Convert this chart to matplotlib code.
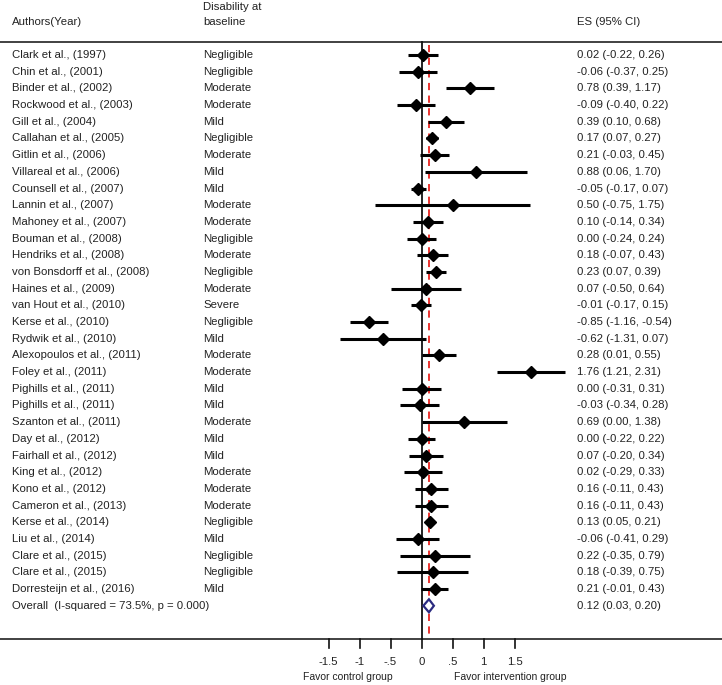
import matplotlib
matplotlib.use("Agg")
import matplotlib.pyplot as plt
import numpy as np

plt.rcParams['font.family'] = ['Liberation Sans', 'DejaVu Sans']

authors = ["Clark et al., (1997)", "Chin et al., (2001)", "Binder et al., (2002)",
           "Rockwood et al., (2003)", "Gill et al., (2004)", "Callahan et al., (2005)",
           "Gitlin et al., (2006)", "Villareal et al., (2006)", "Counsell et al., (2007)",
           "Lannin et al., (2007)", "Mahoney et al., (2007)", "Bouman et al., (2008)",
           "Hendriks et al., (2008)", "von Bonsdorff et al., (2008)", "Haines et al., (2009)",
           "van Hout et al., (2010)", "Kerse et al., (2010)", "Rydwik et al., (2010)",
           "Alexopoulos et al., (2011)", "Foley et al., (2011)", "Pighills et al., (2011)",
           "Pighills et al., (2011)", "Szanton et al., (2011)", "Day et al., (2012)",
           "Fairhall et al., (2012)", "King et al., (2012)", "Kono et al., (2012)",
           "Cameron et al., (2013)", "Kerse et al., (2014)", "Liu et al., (2014)",
           "Clare et al., (2015)", "Clare et al., (2015)", "Dorresteijn et al., (2016)"]
disability = ["Negligible", "Negligible", "Moderate", "Moderate", "Mild", "Negligible",
              "Moderate", "Mild", "Mild", "Moderate", "Moderate", "Negligible",
              "Moderate", "Negligible", "Moderate", "Severe", "Negligible", "Mild",
              "Moderate", "Moderate", "Mild", "Mild", "Moderate", "Mild", "Mild",
              "Moderate", "Moderate", "Moderate", "Negligible", "Mild", "Negligible",
              "Negligible", "Mild"]
es = [0.02, -0.06, 0.78, -0.09, 0.39, 0.17, 0.21, 0.88, -0.05, 0.50, 0.10, 0.00,
      0.18, 0.23, 0.07, -0.01, -0.85, -0.62, 0.28, 1.76, 0.00, -0.03, 0.69, 0.00,
      0.07, 0.02, 0.16, 0.16, 0.13, -0.06, 0.22, 0.18, 0.21]
lo = [-0.22, -0.37, 0.39, -0.40, 0.10, 0.07, -0.03, 0.06, -0.17, -0.75, -0.14, -0.24,
      -0.07, 0.07, -0.50, -0.17, -1.16, -1.31, 0.01, 1.21, -0.31, -0.34, 0.00, -0.22,
      -0.20, -0.29, -0.11, -0.11, 0.05, -0.41, -0.35, -0.39, -0.01]
hi = [0.26, 0.25, 1.17, 0.22, 0.68, 0.27, 0.45, 1.70, 0.07, 1.75, 0.34, 0.24,
      0.43, 0.39, 0.64, 0.15, -0.54, 0.07, 0.55, 2.31, 0.31, 0.28, 1.38, 0.22,
      0.34, 0.33, 0.43, 0.43, 0.21, 0.29, 0.79, 0.75, 0.43]
overall_label = "Overall  (I-squared = 73.5%, p = 0.000)"
overall_es, overall_lo, overall_hi = 0.12, 0.03, 0.20
xticks = [-1.5, -1, -0.5, 0, 0.5, 1, 1.5]
xticklabels = ["-1.5", "-1", "-.5", "0", ".5", "1", "1.5"]

W, H = 722, 685
fig = plt.figure(figsize=(W / 100, H / 100), dpi=100)
ax = fig.add_axes([0, 0, 1, 1])
x0px, scale = 421.5, 62.0
ax.set_xlim(-x0px / scale, (W - x0px) / scale)
ax.set_ylim(H, 0)
ax.axis('off')

def px(p):
    return (p - x0px) / scale

row0, dy = 55.0, 16.69
n = len(authors)
ys = [row0 + i * dy for i in range(n)]
y_over = row0 + n * dy

fs = 8.2
col = '#222222'
es_x = 577
# header
ax.text(px(12), 22, "Authors(Year)", fontsize=fs, va='center', ha='left', color=col)
ax.text(px(203), 7, "Disability at", fontsize=fs, va='center', ha='left', color=col)
ax.text(px(203), 22, "baseline", fontsize=fs, va='center', ha='left', color=col)
ax.text(px(es_x), 22, "ES (95% CI)", fontsize=fs, va='center', ha='left', color=col)

top_y, bot_y = 42, 639
ax.plot([px(0), px(W)], [top_y, top_y], color='#333333', lw=1.3)
ax.plot([px(0), px(W)], [bot_y, bot_y], color='#333333', lw=1.3)
ax.plot([0, 0], [top_y, bot_y], color='#111111', lw=1.3)
ax.plot([overall_es, overall_es], [top_y + 3, bot_y], color='#e8231f', lw=1.3,
        ls=(0, (4, 3)))

for i in range(n):
    y = ys[i]
    ax.text(px(12), y, authors[i], fontsize=fs, va='center', ha='left', color=col)
    ax.text(px(203), y, disability[i], fontsize=fs, va='center', ha='left', color=col)
    ax.text(px(es_x), y, f"{es[i]:.2f} ({lo[i]:.2f}, {hi[i]:.2f})", fontsize=fs,
            va='center', ha='left', color=col)
    ax.plot([lo[i], hi[i]], [y, y], color='black', lw=2.2, solid_capstyle='butt')
    ax.plot(es[i], y, marker='D', color='black', markersize=6.2)

ax.text(px(12), y_over, overall_label, fontsize=fs, va='center', ha='left', color=col)
ax.text(px(es_x), y_over, f"{overall_es:.2f} ({overall_lo:.2f}, {overall_hi:.2f})",
        fontsize=fs, va='center', ha='left', color=col)
dh = 6.5
ax.fill([overall_lo, overall_es, overall_hi, overall_es, overall_lo],
        [y_over, y_over - dh, y_over, y_over + dh, y_over],
        facecolor='white', edgecolor='#2a2a80', lw=1.6, zorder=5)

for t, lab in zip(xticks, xticklabels):
    ax.plot([t, t], [bot_y, bot_y + 9], color='#111111', lw=1.2)
    ax.text(t, 662, lab, fontsize=fs, ha='center', va='center', color=col)

ax.text(px(303), 677, "Favor control group", fontsize=7.5, ha='left', va='center', color=col)
ax.text(px(454), 677, "Favor intervention group", fontsize=7.5, ha='left', va='center', color=col)

fig.savefig("out.png", dpi=100)
